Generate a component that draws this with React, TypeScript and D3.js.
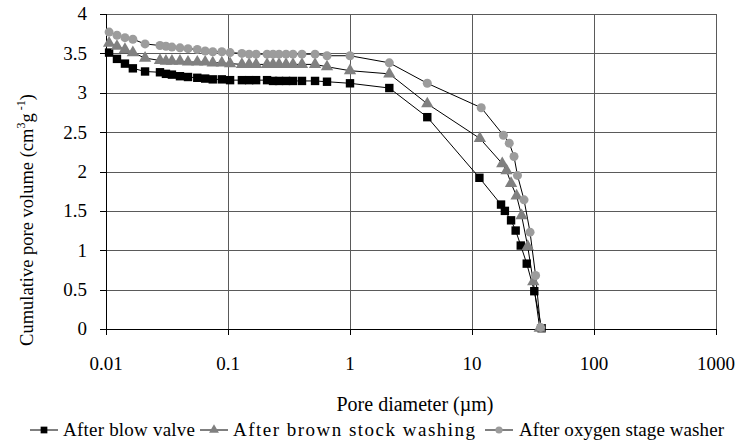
import React from 'react';
import * as d3 from 'd3';

// Pore diameters (µm) shared by all three series (low-diameter plateau)
const sharedDiameters = [
  0.0106, 0.0123, 0.0143, 0.0166, 0.0209, 0.0277, 0.031, 0.0347, 0.0404, 0.047,
  0.056, 0.065, 0.075, 0.089, 0.104, 0.13, 0.149, 0.17, 0.209, 0.234,
  0.262, 0.299, 0.341, 0.404, 0.517, 0.648, 1.0, 2.1, 4.3,
];
// Diameters of the steep tail, per series
const blowValveTail = [11.5, 17.3, 18.6, 20.9, 22.8, 25.1, 28.1, 32.4, 37.2];
const brownStockTail = [11.6, 17.7, 19.2, 20.9, 23.2, 25.5, 28.6, 31.8, 35.9];
const oxygenStageTail = [11.9, 18.1, 20.2, 22.1, 23.6, 26.7, 29.9, 33.2, 36.5];

// Cumulative pore volume (cm3 g-1)
const blowValveVolume = [
  3.51, 3.43, 3.37, 3.31, 3.27, 3.26, 3.24, 3.23, 3.21, 3.2,
  3.19, 3.18, 3.17, 3.17, 3.16, 3.16, 3.16, 3.16, 3.16, 3.15,
  3.15, 3.15, 3.15, 3.15, 3.15, 3.14, 3.12, 3.06, 2.69,
  1.92, 1.58, 1.5, 1.38, 1.25, 1.06, 0.83, 0.48, 0.01,
];
const brownStockVolume = [
  3.63, 3.59, 3.55, 3.51, 3.44, 3.41, 3.4, 3.4, 3.4, 3.39,
  3.39, 3.39, 3.38, 3.38, 3.37, 3.36, 3.36, 3.36, 3.36, 3.36,
  3.36, 3.36, 3.36, 3.36, 3.36, 3.33, 3.28, 3.24, 2.86,
  2.42, 2.1, 2.01, 1.85, 1.69, 1.44, 1.05, 0.6, 0.01,
];
const oxygenStageVolume = [
  3.77, 3.73, 3.7, 3.68, 3.62, 3.6, 3.59, 3.58, 3.57, 3.56,
  3.55, 3.53, 3.52, 3.52, 3.51, 3.5, 3.49, 3.49, 3.49, 3.49,
  3.49, 3.49, 3.49, 3.49, 3.49, 3.47, 3.47, 3.38, 3.12,
  2.81, 2.46, 2.36, 2.19, 1.95, 1.64, 1.23, 0.68, 0.02,
];

const seriesNames = ['After blow valve', 'After brown stock washing', 'After oxygen stage washer'];
const xTicks = [0.01, 0.1, 1, 10, 100, 1000];
const xTickLabels = ['0.01', '0.1', '1', '10', '100', '1000'];
const yTicks = [0, 0.5, 1, 1.5, 2, 2.5, 3, 3.5, 4];
const yTickLabels = ['0', '0.5', '1', '1.5', '2', '2.5', '3', '3.5', '4'];

const W = 737;
const H = 441;
const M = { left: 106, right: 716, top: 14, bottom: 329 };
const FONT = "'Liberation Serif', 'DejaVu Serif', serif";
const txt = { fontFamily: FONT };

type Shape = 'square' | 'triangle' | 'circle';
const series = [
  { name: seriesNames[0], x: [...sharedDiameters, ...blowValveTail], y: blowValveVolume, shape: 'square' as Shape, color: '#000000' },
  { name: seriesNames[1], x: [...sharedDiameters, ...brownStockTail], y: brownStockVolume, shape: 'triangle' as Shape, color: '#808080' },
  { name: seriesNames[2], x: [...sharedDiameters, ...oxygenStageTail], y: oxygenStageVolume, shape: 'circle' as Shape, color: '#9c9c9c' },
];

function Marker({ shape, cx, cy, color, small }: { shape: Shape; cx: number; cy: number; color: string; small?: boolean }) {
  const k = small ? 0.8 : 1;
  if (shape === 'square') return <rect x={cx - 4.2 * k} y={cy - 4.2 * k} width={8.4 * k} height={8.4 * k} fill={color} />;
  if (shape === 'triangle') {
    const p = d3.symbol(d3.symbolTriangle, 66 * k * k)();
    return <path d={p as string} transform={`translate(${cx},${cy})`} fill={color} />;
  }
  return <circle cx={cx} cy={cy} r={4.5 * k} fill={color} />;
}

export default function App() {
  const x = d3.scaleLog().domain([0.01, 1000]).range([M.left, M.right]);
  const y = d3.scaleLinear().domain([0, 4]).range([M.bottom, M.top]);
  const line = d3.line<[number, number]>().x((d) => x(d[0])).y((d) => y(d[1]));

  const legendItems = [
    { lx: 30, tx: 63, tw: 132 },
    { lx: 200, tx: 233, tw: 242 },
    { lx: 485, tx: 519, tw: 205 },
  ];

  return (
    <svg width={W} height={H} style={{ position: 'absolute', left: 0, top: 0, background: '#fff' }}>
      <rect width={W} height={H} fill="#fff" />
      {/* grid */}
      {yTicks.filter((t) => t > 0).map((t) => (
        <line key={'gy' + t} x1={M.left} x2={M.right} y1={Math.round(y(t)) + 0.5} y2={Math.round(y(t)) + 0.5} stroke="#5a5a5a" strokeWidth={1} />
      ))}
      {xTicks.filter((t) => t > 0.01).map((t) => (
        <line key={'gx' + t} x1={Math.round(x(t)) + 0.5} x2={Math.round(x(t)) + 0.5} y1={M.top} y2={M.bottom} stroke="#5a5a5a" strokeWidth={1} />
      ))}
      {/* axes */}
      <line x1={M.left + 0.5} x2={M.left + 0.5} y1={M.top} y2={M.bottom + 0.5} stroke="#000" />
      <line x1={M.left} x2={M.right} y1={M.bottom + 0.5} y2={M.bottom + 0.5} stroke="#000" />
      {yTicks.map((t, i) => (
        <g key={'yt' + t}>
          <line x1={M.left - 6} x2={M.left} y1={Math.round(y(t)) + 0.5} y2={Math.round(y(t)) + 0.5} stroke="#000" />
          <text x={M.left - 19} y={y(t)} dy="0.34em" textAnchor="end" fontSize={19} fill="#000" style={txt}>{yTickLabels[i]}</text>
        </g>
      ))}
      {xTicks.map((t, i) => (
        <g key={'xt' + t}>
          <line x1={Math.round(x(t)) + 0.5} x2={Math.round(x(t)) + 0.5} y1={M.bottom} y2={M.bottom + 6} stroke="#000" />
          <text x={x(t)} y={370} textAnchor="middle" fontSize={19} fill="#000" style={txt}>{xTickLabels[i]}</text>
        </g>
      ))}
      {/* series */}
      {series.map((s) => {
        const pts = s.x.map((v, i) => [v, s.y[i]] as [number, number]);
        return <path key={s.name} d={line(pts) as string} fill="none" stroke="#000" strokeWidth={1} />;
      })}
      {series.map((s) => (
        <g key={s.name + 'm'}>
          {s.x.map((v, i) => (
            <Marker key={i} shape={s.shape} cx={x(v)} cy={y(s.y[i])} color={s.color} />
          ))}
        </g>
      ))}
      {/* axis titles */}
      <text x={415} y={411} textAnchor="middle" fontSize={20} fill="#000" style={txt}>Pore diameter (µm)</text>
      <text transform={`translate(33, 220) rotate(-90)`} textAnchor="middle" fontSize={18.5} fill="#000" style={txt}>
        Cumulative pore volume (cm<tspan dy="-8" fontSize={12}>3</tspan><tspan dy="8">g</tspan><tspan dy="-8" fontSize={12}> -1</tspan><tspan dy="8">)</tspan>
      </text>
      {/* legend */}
      {series.map((s, i) => {
        const it = legendItems[i];
        const cy = 430;
        return (
          <g key={s.name + 'l'}>
            <line x1={it.lx} x2={it.lx + 28} y1={cy} y2={cy} stroke="#000" />
            <Marker shape={s.shape} cx={it.lx + 14} cy={cy} color={s.color} small />
            <text x={it.tx} y={436} fontSize={19} fill="#000" style={txt} textLength={it.tw} lengthAdjust="spacing">{s.name}</text>
          </g>
        );
      })}
    </svg>
  );
}
